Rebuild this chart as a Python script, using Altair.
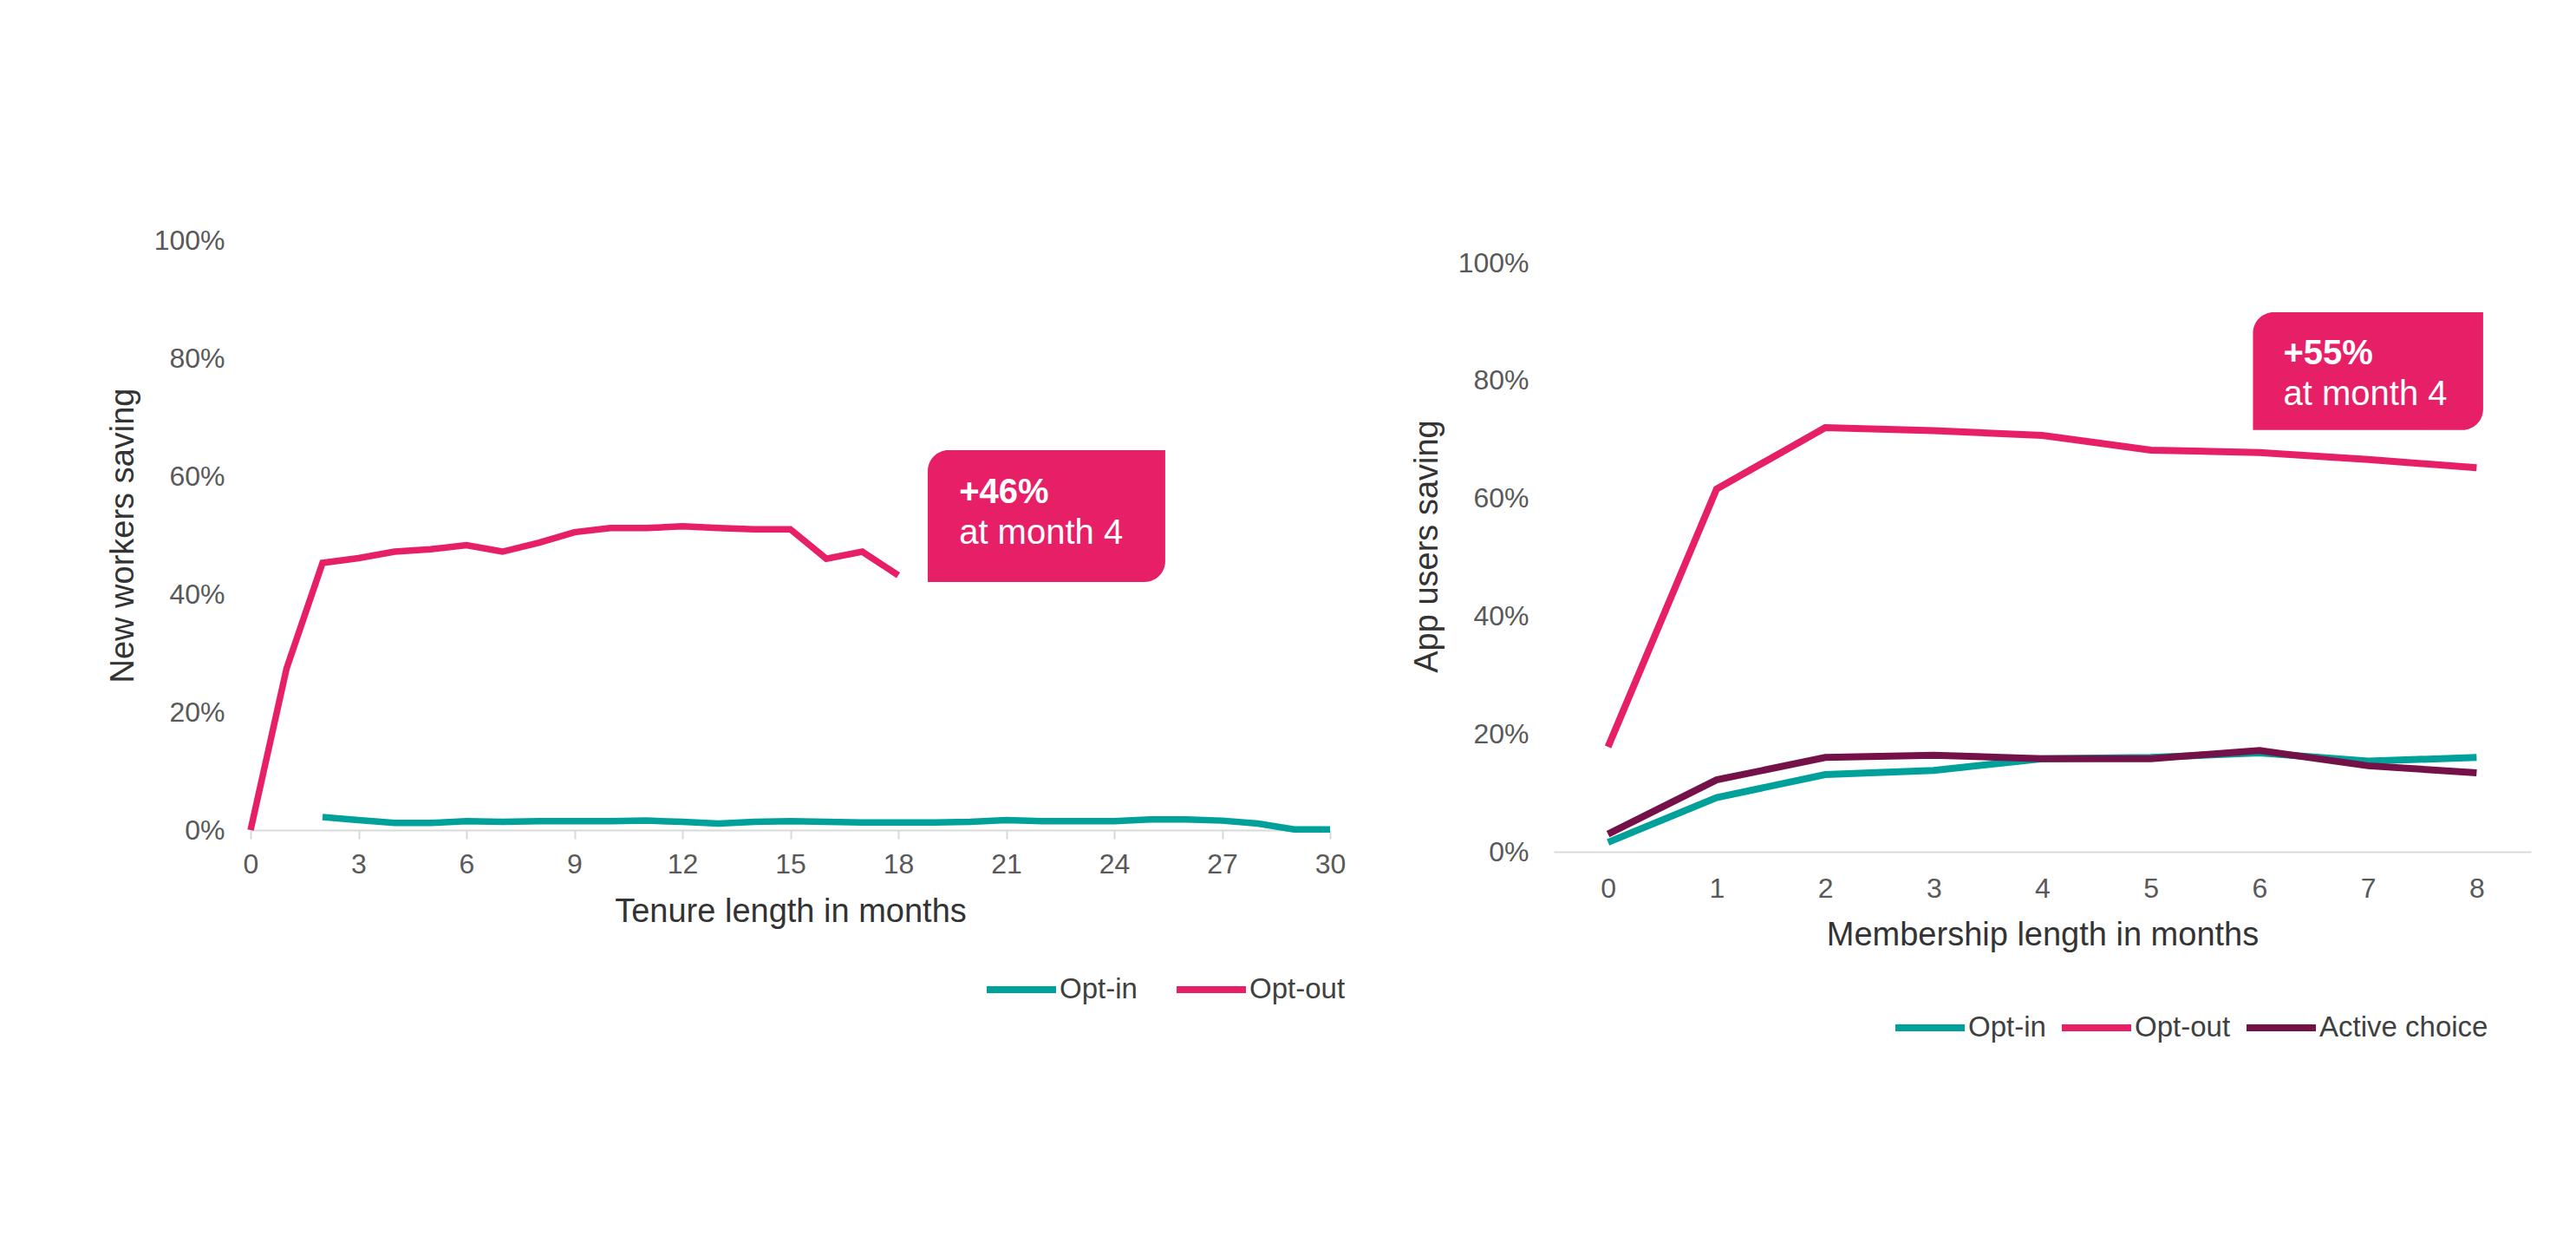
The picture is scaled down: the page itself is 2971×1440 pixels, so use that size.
import altair as alt
import pandas as pd

TEAL = "#00A19B"
PINK = "#E71F67"
MAROON = "#741148"
FONT = "Liberation Sans"

# ---- Left chart data (Tenure length in months) ----
tenure_optout_months = list(range(0, 19))
tenure_optout = [0.0, 27.4, 45.3, 46.1, 47.2, 47.6, 48.3, 47.2, 48.7, 50.5, 51.2,
                 51.2, 51.5, 51.2, 51.0, 51.0, 46.0, 47.2, 43.2]
tenure_optin_months = list(range(2, 31))
tenure_optin = [2.2, 1.7, 1.2, 1.2, 1.5, 1.4, 1.5, 1.5, 1.5, 1.6, 1.4, 1.1, 1.4,
                1.5, 1.4, 1.3, 1.3, 1.3, 1.4, 1.7, 1.5, 1.5, 1.5, 1.8, 1.8, 1.6,
                1.1, 0.1, 0.1]
left_series = ["Opt-in", "Opt-out"]
left_ticks_x = list(range(0, 31, 3))

# ---- Right chart data (Membership length in months) ----
membership_months = list(range(0, 9))
member_optin = [1.6, 9.2, 13.1, 13.8, 15.8, 16.0, 16.8, 15.4, 16.0]
member_optout = [17.8, 61.6, 72.0, 71.5, 70.7, 68.2, 67.8, 66.6, 65.2]
member_active = [3.0, 12.2, 16.0, 16.4, 15.8, 15.8, 17.2, 14.6, 13.4]
right_series = ["Opt-in", "Opt-out", "Active choice"]

y_ticks = [0, 20, 40, 60, 80, 100]

# ---- Annotation callouts (data coordinates) ----
left_box = {"x1": 18.82, "x2": 25.42, "y1": 42.06, "y2": 64.4}
left_texts = [{"x": 19.69, "y": 55.4, "t": "+46%", "bold": True},
              {"x": 19.69, "y": 48.5, "t": "at month 4", "bold": False}]
right_box = {"x1": 5.94, "x2": 8.06, "y1": 71.6, "y2": 91.6}
right_texts = [{"x": 6.22, "y": 82.8, "t": "+55%", "bold": True},
               {"x": 6.22, "y": 75.8, "t": "at month 4", "bold": False}]

df_left = pd.DataFrame(
    [{"month": m, "value": v, "series": "Opt-in"} for m, v in zip(tenure_optin_months, tenure_optin)]
    + [{"month": m, "value": v, "series": "Opt-out"} for m, v in zip(tenure_optout_months, tenure_optout)]
)
df_right = pd.DataFrame(
    [{"month": m, "value": v, "series": "Opt-in"} for m, v in zip(membership_months, member_optin)]
    + [{"month": m, "value": v, "series": "Opt-out"} for m, v in zip(membership_months, member_optout)]
    + [{"month": m, "value": v, "series": "Active choice"} for m, v in zip(membership_months, member_active)]
)

LABEL_COLOR = "#595959"
TITLE_COLOR = "#333333"
AXIS_GRAY = "#D9D9D9"


def y_axis(title, pad):
    return alt.Axis(values=y_ticks, labelExpr="datum.value + '%'", title=title,
                    domain=False, ticks=False, grid=False, labelFont=FONT,
                    labelFontSize=32, labelColor=LABEL_COLOR, labelPadding=pad,
                    titleFont=FONT, titleFontSize=38, titleColor=TITLE_COLOR,
                    titleFontWeight="normal", titlePadding=16)


left_x_axis = alt.Axis(values=left_ticks_x, title="Tenure length in months",
                       format="d", grid=False, domainColor=AXIS_GRAY,
                       domainWidth=2, tickColor=AXIS_GRAY, tickWidth=2,
                       tickSize=10, labelFont=FONT, labelFontSize=32,
                       labelColor=LABEL_COLOR, labelPadding=14, labelFlush=False,
                       titleFont=FONT, titleFontSize=38,
                       titleColor=TITLE_COLOR, titleFontWeight="normal",
                       titlePadding=20)
left_y_axis = y_axis("New workers saving", 30)
right_x_axis = alt.Axis(values=membership_months, title="Membership length in months",
                        format="d", grid=False, domainColor=AXIS_GRAY,
                        domainWidth=2, ticks=False, labelFont=FONT,
                        labelFontSize=32, labelColor=LABEL_COLOR, labelFlush=False,
                        labelPadding=27, titleFont=FONT, titleFontSize=38,
                        titleColor=TITLE_COLOR, titleFontWeight="normal",
                        titlePadding=19)
right_y_axis = y_axis("App users saving", 29)


def callout(box, texts, xscale, yscale, xaxis, yaxis):
    bdf = pd.DataFrame([box])
    tdf = pd.DataFrame(texts)
    rect = alt.Chart(bdf).mark_rect(color=PINK, cornerRadiusTopLeft=24,
                                    cornerRadiusBottomRight=24).encode(
        x=alt.X("x1:Q", scale=xscale, axis=xaxis),
        x2="x2:Q",
        y=alt.Y("y1:Q", scale=yscale, axis=yaxis),
        y2="y2:Q",
    )
    bold = alt.Chart(tdf).transform_filter("datum.bold").mark_text(
        align="left", baseline="alphabetic", color="white", font=FONT,
        fontSize=40, fontWeight="bold").encode(
        x=alt.X("x:Q", scale=xscale, axis=xaxis),
        y=alt.Y("y:Q", scale=yscale, axis=yaxis),
        text="t:N")
    reg = alt.Chart(tdf).transform_filter("!datum.bold").mark_text(
        align="left", baseline="alphabetic", color="white", font=FONT,
        fontSize=40).encode(
        x=alt.X("x:Q", scale=xscale, axis=xaxis),
        y=alt.Y("y:Q", scale=yscale, axis=yaxis),
        text="t:N")
    return rect + bold + reg


# ---- Left panel ----
lx = alt.Scale(domain=[0, 30], nice=False, zero=False)
ly = alt.Scale(domain=[0, 100], nice=False)
left_lines = alt.Chart(df_left).mark_line(strokeWidth=7.5).encode(
    x=alt.X("month:Q", scale=lx, axis=left_x_axis),
    y=alt.Y("value:Q", scale=ly, axis=left_y_axis),
    color=alt.Color("series:N", scale=alt.Scale(domain=left_series, range=[TEAL, PINK]),
                    title=None,
                    legend=alt.Legend(orient="none", legendX=845, legendY=820,
                                      direction="horizontal", symbolType="stroke",
                                      symbolSize=6400, symbolStrokeWidth=8,
                                      labelFont=FONT, labelFontSize=33,
                                      labelColor="#404040", labelOffset=0,
                                      labelLimit=0, columnPadding=29, padding=0)),
)
left = (left_lines + callout(left_box, left_texts, lx, ly, left_x_axis, left_y_axis)).properties(
    width=1245, height=680)

# ---- Right panel ----
rx = alt.Scale(domain=[-0.5, 8.5], nice=False, zero=False)
ry = alt.Scale(domain=[0, 103.83], nice=False)
right_lines = alt.Chart(df_right).mark_line(strokeWidth=8).encode(
    x=alt.X("month:Q", scale=rx, axis=right_x_axis),
    y=alt.Y("value:Q", scale=ry, axis=right_y_axis),
    color=alt.Color("series:N",
                    scale=alt.Scale(domain=right_series, range=[TEAL, PINK, MAROON]),
                    sort=right_series, title=None,
                    legend=alt.Legend(orient="none", legendX=390, legendY=864,
                                      direction="horizontal", symbolType="stroke",
                                      symbolSize=6400, symbolStrokeWidth=8,
                                      labelFont=FONT, labelFontSize=33,
                                      labelColor="#404040", labelOffset=0,
                                      labelLimit=0, columnPadding=2, padding=0)),
)
right = (right_lines + callout(right_box, right_texts, rx, ry, right_x_axis, right_y_axis)).properties(
    width=1127, height=705)

chart = alt.hconcat(left, right, spacing=75).resolve_scale(color="independent").properties(
    padding={"left": 123, "top": 261, "right": 20, "bottom": 20},
    background="white",
).configure_view(strokeWidth=0)

chart.save("out.html", embed_options={"renderer": "svg", "actions": False})
